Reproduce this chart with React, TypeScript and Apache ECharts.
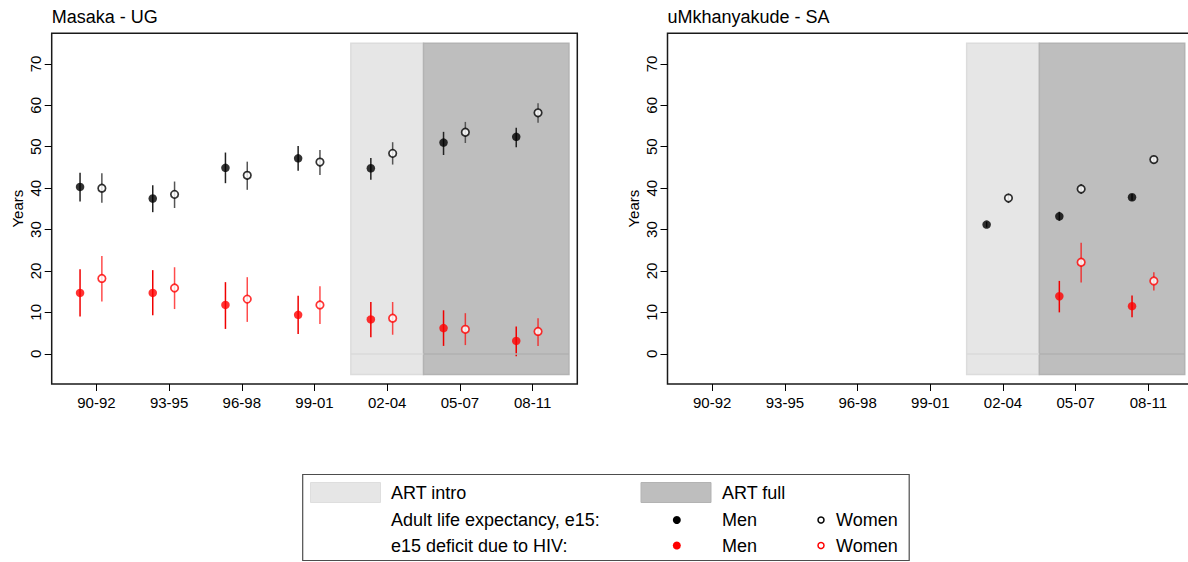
import React, { useEffect, useRef } from "react";
import * as echarts from "echarts";

// ---------- data ----------
const periods = ["90-92", "93-95", "96-98", "99-01", "02-04", "05-07", "08-11"];
const yTicks = [0, 10, 20, 30, 40, 50, 60, 70];
const artIntro = [4.5, 5.5];
const artFull = [5.5, 7.5];
const shadeRange = [-5, 75];

// Masaka - UG
const mE15Men = [40.3, 37.5, 44.9, 47.2, 44.8, 51.0, 52.4];
const mE15MenLo = [36.8, 34.2, 41.2, 44.2, 42.0, 48.0, 49.9];
const mE15MenHi = [43.7, 40.7, 48.6, 50.2, 47.3, 53.6, 54.6];
const mE15Women = [40.0, 38.5, 43.1, 46.3, 48.4, 53.5, 58.2];
const mE15WomenLo = [36.5, 35.2, 39.6, 43.2, 45.7, 50.9, 55.8];
const mE15WomenHi = [43.6, 41.6, 46.4, 49.2, 51.1, 56.0, 60.5];
const mDefMen = [14.7, 14.7, 11.8, 9.4, 8.3, 6.2, 3.1];
const mDefMenLo = [9.0, 9.3, 6.0, 4.8, 4.0, 1.9, -0.6];
const mDefMenHi = [20.4, 20.2, 17.3, 14.0, 12.5, 10.5, 6.6];
const mDefWomen = [18.2, 15.9, 13.2, 11.8, 8.6, 5.9, 5.4];
const mDefWomenLo = [12.6, 10.8, 7.7, 7.2, 4.6, 2.1, 1.9];
const mDefWomenHi = [23.6, 20.9, 18.5, 16.3, 12.5, 9.8, 8.6];

// uMkhanyakude - SA
const uE15Men = [null, null, null, null, 31.2, 33.2, 37.8];
const uE15MenLo = [null, null, null, null, 30.5, 32.1, 37.0];
const uE15MenHi = [null, null, null, null, 31.9, 34.3, 38.6];
const uE15Women = [null, null, null, null, 37.6, 39.8, 46.9];
const uE15WomenLo = [null, null, null, null, 36.4, 38.6, 46.0];
const uE15WomenHi = [null, null, null, null, 38.7, 41.0, 47.8];
const uDefMen = [null, null, null, null, null, 13.9, 11.5];
const uDefMenLo = [null, null, null, null, null, 10.0, 8.8];
const uDefMenHi = [null, null, null, null, null, 17.6, 14.1];
const uDefWomen = [null, null, null, null, null, 22.1, 17.6];
const uDefWomenLo = [null, null, null, null, null, 17.2, 15.3];
const uDefWomenHi = [null, null, null, null, null, 26.8, 19.7];

// ---------- styling ----------
const FONT = '"Liberation Sans", Arial, Helvetica, sans-serif';
const MEN_OFF = -0.225;
const WOMEN_OFF = 0.075;
const LIGHT = "#e6e6e6";
const DARK = "#bebebe";

type Arr = (number | null)[];

function groupSeries(
  grid: number,
  vals: Arr,
  lo: Arr,
  hi: Arr,
  off: number,
  color: string,
  barColor: string,
  open: boolean
) {
  const barData: any[] = [];
  const ptData: any[] = [];
  vals.forEach((v, i) => {
    if (v == null) return;
    const x = i + 1 + off;
    barData.push([x, lo[i], hi[i]]);
    ptData.push([x, v]);
  });
  return [
    {
      type: "custom",
      xAxisIndex: grid,
      yAxisIndex: grid,
      z: 3,
      silent: true,
      encode: { x: 0, y: [1, 2] },
      data: barData,
      renderItem: (params: any, api: any) => {
        const p1 = api.coord([api.value(0), api.value(1)]);
        const p2 = api.coord([api.value(0), api.value(2)]);
        return {
          type: "line",
          shape: { x1: p1[0], y1: p1[1], x2: p2[0], y2: p2[1] },
          style: { stroke: barColor, lineWidth: 1.5 },
        };
      },
    },
    {
      type: "scatter",
      xAxisIndex: grid,
      yAxisIndex: grid,
      z: 4,
      silent: true,
      data: ptData,
      symbol: "circle",
      symbolSize: open ? 7.5 : 8.5,
      itemStyle: open
        ? { color: "#ffffff", borderColor: color, borderWidth: 1.7 }
        : { color: color, borderWidth: 0 },
    },
  ];
}

function shadeSeries(grid: number) {
  return {
    type: "scatter",
    xAxisIndex: grid,
    yAxisIndex: grid,
    data: [],
    z: 1,
    silent: true,
    markArea: {
      silent: true,
      data: [
        [
          { xAxis: artIntro[0], yAxis: shadeRange[0], itemStyle: { color: LIGHT, borderColor: "#dcdcdc", borderWidth: 1.5 } },
          { xAxis: artIntro[1], yAxis: shadeRange[1] },
        ],
        [
          { xAxis: artFull[0], yAxis: shadeRange[0], itemStyle: { color: DARK, borderColor: "#b3b3b3", borderWidth: 1.5 } },
          { xAxis: artFull[1], yAxis: shadeRange[1] },
        ],
      ],
    },
    markLine: {
      silent: true,
      symbol: ["none", "none"],
      label: { show: false },
      data: [
        [
          { coord: [artIntro[0], 0], lineStyle: { color: "#dadada", width: 1.5, type: "solid" } },
          { coord: [artIntro[1], 0] },
        ],
        [
          { coord: [artFull[0], 0], lineStyle: { color: "#b0b0b0", width: 1.5, type: "solid" } },
          { coord: [artFull[1], 0] },
        ],
      ],
    },
  };
}

function xAxisFor(grid: number) {
  const ticks = periods.map((_, i) => i + 1);
  return {
    type: "value",
    gridIndex: grid,
    min: 0.385,
    max: 7.615,
    position: "bottom",
    axisLine: { show: false, onZero: false },
    splitLine: { show: false },
    axisTick: { show: true, customValues: ticks, length: 7, lineStyle: { color: "#000", width: 1 } },
    axisLabel: {
      customValues: ticks,
      formatter: (v: number) => periods[Math.round(v) - 1] ?? "",
      fontSize: 15,
      color: "#000",
      fontFamily: FONT,
      margin: 11,
    },
  };
}

function yAxisFor(grid: number) {
  return {
    type: "value",
    gridIndex: grid,
    min: -7.3,
    max: 77.4,
    position: "left",
    name: "Years",
    nameLocation: "middle",
    nameRotate: 90,
    nameGap: 27,
    nameTextStyle: { fontSize: 15, color: "#000", fontFamily: FONT },
    axisLine: { show: false, onZero: false },
    splitLine: { show: false },
    axisTick: { show: true, customValues: yTicks, length: 7, lineStyle: { color: "#000", width: 1 } },
    axisLabel: {
      customValues: yTicks,
      rotate: 90,
      fontSize: 15,
      color: "#000",
      fontFamily: FONT,
      margin: 9,
    },
  };
}

function txt(x: number, y: number, text: string, size = 18) {
  return {
    type: "text",
    x,
    y,
    silent: true,
    style: { text, fontSize: size, fontFamily: FONT, fill: "#000", align: "left", verticalAlign: "middle" },
  };
}

export default function App() {
  const ref = useRef<HTMLDivElement>(null);
  useEffect(() => {
    document.body.style.margin = "0";
    if (!ref.current) return;
    const chart = echarts.init(ref.current, undefined, { renderer: "svg" });

    const series: any[] = [
      shadeSeries(0),
      shadeSeries(1),
      ...groupSeries(0, mE15Men, mE15MenLo, mE15MenHi, MEN_OFF, "#000", "#222", false),
      ...groupSeries(0, mE15Women, mE15WomenLo, mE15WomenHi, WOMEN_OFF, "#000", "#555", true),
      ...groupSeries(0, mDefMen, mDefMenLo, mDefMenHi, MEN_OFF, "#ff0000", "#f00000", false),
      ...groupSeries(0, mDefWomen, mDefWomenLo, mDefWomenHi, WOMEN_OFF, "#ff0000", "rgba(255,0,0,0.7)", true),
      ...groupSeries(1, uE15Men, uE15MenLo, uE15MenHi, MEN_OFF, "#000", "#222", false),
      ...groupSeries(1, uE15Women, uE15WomenLo, uE15WomenHi, WOMEN_OFF, "#000", "#555", true),
      ...groupSeries(1, uDefMen, uDefMenLo, uDefMenHi, MEN_OFF, "#ff0000", "#f00000", false),
      ...groupSeries(1, uDefWomen, uDefWomenLo, uDefWomenHi, WOMEN_OFF, "#ff0000", "rgba(255,0,0,0.7)", true),
    ];

    const legendRow1 = 493;
    const legendRow2 = 520;
    const legendRow3 = 545.5;

    chart.setOption({
      animation: false,
      backgroundColor: "#ffffff",
      grid: [
        { left: 51.7, top: 33.3, width: 525.6, height: 350.7, show: true, outerBoundsMode: "none", containLabel: false, borderColor: "#1a1a1a", borderWidth: 1.5, backgroundColor: "transparent" },
        { left: 667.5, top: 33.3, width: 525.6, height: 350.7, show: true, outerBoundsMode: "none", containLabel: false, borderColor: "#1a1a1a", borderWidth: 1.5, backgroundColor: "transparent" },
      ],
      xAxis: [xAxisFor(0), xAxisFor(1)],
      yAxis: [yAxisFor(0), yAxisFor(1)],
      series,
      graphic: [
        txt(51.7, 17, "Masaka - UG"),
        txt(667.5, 17, "uMkhanyakude - SA"),
        {
          type: "rect",
          silent: true,
          shape: { x: 302.7, y: 474.5, width: 606.5, height: 86 },
          style: { fill: "#fff", stroke: "#4d4d4d", lineWidth: 1.2 },
        },
        {
          type: "rect",
          silent: true,
          shape: { x: 310.5, y: 482.5, width: 70, height: 20 },
          style: { fill: LIGHT, stroke: "#dedede", lineWidth: 1 },
        },
        txt(391, legendRow1, "ART intro"),
        {
          type: "rect",
          silent: true,
          shape: { x: 641, y: 482.5, width: 70, height: 20 },
          style: { fill: DARK, stroke: "#b3b3b3", lineWidth: 1 },
        },
        txt(722, legendRow1, "ART full"),
        txt(391, legendRow2, "Adult life expectancy, e15:"),
        { type: "circle", silent: true, shape: { cx: 676.8, cy: legendRow2, r: 4 }, style: { fill: "#000" } },
        txt(722, legendRow2, "Men"),
        { type: "circle", silent: true, shape: { cx: 821, cy: legendRow2, r: 3 }, style: { fill: "#fff", stroke: "#000", lineWidth: 1.5 } },
        txt(836, legendRow2, "Women"),
        txt(391, legendRow3, "e15 deficit due to HIV:"),
        { type: "circle", silent: true, shape: { cx: 676.8, cy: legendRow3, r: 4 }, style: { fill: "#ff0000" } },
        txt(722, legendRow3, "Men"),
        { type: "circle", silent: true, shape: { cx: 821, cy: legendRow3, r: 3 }, style: { fill: "#fff", stroke: "#ff0000", lineWidth: 1.5 } },
        txt(836, legendRow3, "Women"),
      ],
    });
    return () => chart.dispose();
  }, []);
  return <div ref={ref} style={{ width: 1188, height: 562 }} />;
}
